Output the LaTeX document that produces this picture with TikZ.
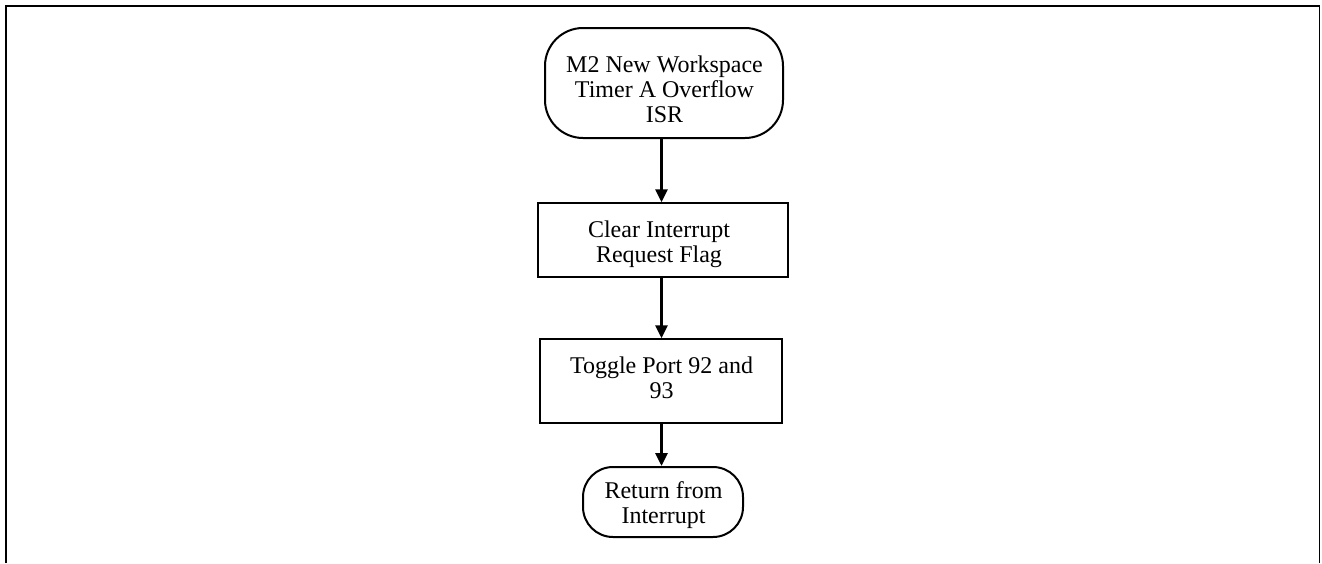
\documentclass[tikz,border=0pt]{standalone}
\usepackage{fontspec}
\setmainfont{Liberation Serif}
\usetikzlibrary{arrows.meta}
% centred lines, aligned on the baseline of the last line
\newcommand{\flowlines}[1]{\begin{tabular}[b]{@{}c@{}}#1\end{tabular}}
\begin{document}
\begin{tikzpicture}[x=1pt,y=-1pt,
  label text/.style={font=\fontsize{24}{25}\selectfont, inner sep=0pt, anchor=base},
  terminal/.style={draw, line width=2pt, rounded corners=#1, inner sep=0pt},
  process/.style={draw, line width=1.5pt, inner sep=0pt},
  flow/.style={line width=3pt, -{Triangle[width=12pt,length=13pt]}}]
  \useasboundingbox (0,0) rectangle (1322,563);
  % open frame round the chart
  \draw[line width=2pt] (6,563) -- (6,6) -- (1319.5,6);
  \draw[line width=1.6pt] (1319.5,6) -- (1319.5,563);

  % shapes
  \node[terminal=38pt, minimum width=238pt, minimum height=110pt] (start) at (664,83) {};
  \node[process, minimum width=250pt, minimum height=74pt] (clear) at (663,240) {};
  \node[process, minimum width=242pt, minimum height=84pt] (toggle) at (661,381) {};
  \node[terminal=30pt, minimum width=160pt, minimum height=70pt] (ret) at (663,502) {};

  % texts
  \node[label text] (start-text) at (664.5,122) {\flowlines{M2 New Workspace\\Timer A Overflow\\ISR}};
  \node[label text] (clear-text) at (659,262) {\flowlines{Clear Interrupt\\Request Flag}};
  \node[label text] (toggle-text) at (661.5,398) {\flowlines{Toggle Port 92 and\\93}};
  \node[label text] (ret-text) at (663.5,523) {\flowlines{Return from\\Interrupt}};

  % connectors along the common axis
  \coordinate (axis) at (661.5,0);
  \draw[flow] (start.south -| axis) -- (clear.north -| axis);
  \draw[flow] (clear.south -| axis) -- (toggle.north -| axis);
  \draw[flow] (toggle.south -| axis) -- (ret.north -| axis);
\end{tikzpicture}
\end{document}
